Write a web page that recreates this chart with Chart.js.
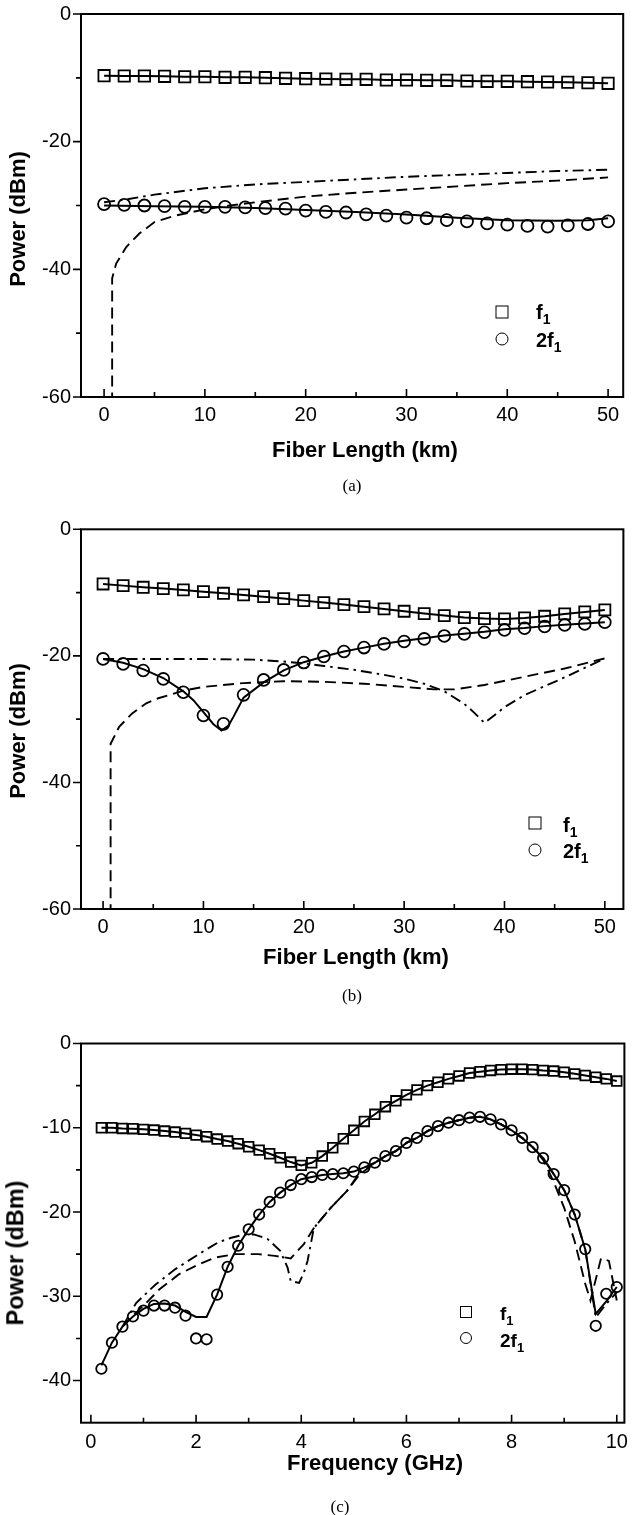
<!DOCTYPE html>
<html>
<head>
<meta charset="utf-8">
<script src="https://cdn.jsdelivr.net/npm/chart.js@4/dist/chart.umd.min.js"></script>
<style>
html,body{margin:0;padding:0;background:#fff;}
body{width:633px;height:1515px;position:relative;overflow:hidden;font-family:"Liberation Sans",Arial,sans-serif;color:#000;}
canvas{position:absolute;left:0;}
.t{position:absolute;font-weight:bold;font-size:22px;white-space:nowrap;line-height:1;}
.yt{transform:translate(-50%,-50%) rotate(-90deg);}
.xt{transform:translate(-50%,-50%);}
.cap{position:absolute;font-family:"Liberation Serif","Times New Roman",serif;font-size:17px;transform:translate(-50%,-50%);white-space:nowrap;}
.lg{position:absolute;font-weight:bold;font-size:20px;line-height:20px;white-space:nowrap;}
.lg.s{font-size:19px;line-height:19px;}
.lg sub{font-size:14px;vertical-align:-5px;line-height:0;}
.lg.s sub{font-size:13px;}
.msq{position:absolute;border:1.8px solid #000;box-sizing:border-box;transform:translate(-50%,-50%);}
.mci{position:absolute;border:1.8px solid #000;border-radius:50%;box-sizing:border-box;transform:translate(-50%,-50%);}
</style>
</head>
<body>
<canvas id="ca" width="633" height="470" style="top:0px"></canvas>
<canvas id="cb" width="633" height="470" style="top:515px"></canvas>
<canvas id="cc" width="633" height="440" style="top:1030px"></canvas>

<!-- axis titles -->
<div class="t yt" style="left:18px;top:219px">Power (dBm)</div>
<div class="t xt" style="left:365px;top:450px">Fiber Length (km)</div>
<div class="cap" style="left:352px;top:486px">(a)</div>

<div class="t yt" style="left:18px;top:731px">Power (dBm)</div>
<div class="t xt" style="left:356px;top:957px">Fiber Length (km)</div>
<div class="cap" style="left:352px;top:996px">(b)</div>

<div class="t yt" style="left:16px;top:1253px;font-size:23.5px">Power (dBm)</div>
<div class="t xt" style="left:375px;top:1463px">Frequency (GHz)</div>
<div class="cap" style="left:340px;top:1507px">(c)</div>

<!-- legends -->
<div class="msq" style="left:502px;top:312px;width:13px;height:13px"></div>
<div class="lg" style="left:536px;top:302px">f<sub>1</sub></div>
<div class="mci" style="left:502px;top:339px;width:13px;height:13px"></div>
<div class="lg" style="left:536px;top:330px">2f<sub>1</sub></div>

<div class="msq" style="left:535px;top:823px;width:13px;height:13px"></div>
<div class="lg" style="left:563px;top:815px">f<sub>1</sub></div>
<div class="mci" style="left:535px;top:850px;width:13px;height:13px"></div>
<div class="lg" style="left:563px;top:841px">2f<sub>1</sub></div>

<div class="msq" style="left:466px;top:1312px;width:12px;height:12px"></div>
<div class="lg s" style="left:500px;top:1304px">f<sub>1</sub></div>
<div class="mci" style="left:466px;top:1338px;width:12px;height:12px"></div>
<div class="lg s" style="left:500px;top:1331px">2f<sub>1</sub></div>

<script>
// ---------------- DATA ----------------
// (a) and (b): fiber length axis
const KM = [0,2,4,6,8,10,12,14,16,18,20,22,24,26,28,30,32,34,36,38,40,42,44,46,48,50];
const KM_TICKS = [0,10,20,30,40,50];
const KM_MINOR = [5,15,25,35,45];
const DB_TICKS_AB = [0,-20,-40,-60];
const DB_MINOR_AB = [-10,-30,-50];

// (a)
const A_F1  = [-9.66,-9.71,-9.71,-9.77,-9.82,-9.82,-9.92,-9.92,-9.97,-10.08,-10.13,-10.18,-10.24,-10.24,-10.34,-10.34,-10.39,-10.39,-10.5,-10.55,-10.55,-10.6,-10.65,-10.7,-10.76,-10.86];
const A_2F1 = [-29.8,-29.9,-30.0,-30.1,-30.2,-30.2,-30.2,-30.3,-30.4,-30.5,-30.8,-31.0,-31.1,-31.4,-31.6,-31.9,-32.0,-32.3,-32.5,-32.8,-33.0,-33.2,-33.3,-33.1,-32.9,-32.5];
const A_SOLID_X = [0,5,10,15,20,25,30,35,40,45,48,50];
const A_SOLID_Y = [-30.0,-30.1,-30.2,-30.4,-30.7,-31.0,-31.4,-31.9,-32.3,-32.4,-32.3,-32.0];
const A_DOT_X = [0,2,5,10,15,20,25,30,35,40,45,50];
const A_DOT_Y = [-29.5,-29.1,-28.3,-27.3,-26.7,-26.3,-25.9,-25.5,-25.2,-24.9,-24.6,-24.4];
const A_DASH_X = [0.8,0.8,1.2,2.2,3.5,5,7,10,12,15,20,25,30,35,40,45,50];
const A_DASH_Y = [-61,-41.4,-39.1,-36.5,-34.4,-32.6,-31.6,-30.6,-30.1,-29.5,-28.6,-28.0,-27.5,-27.0,-26.5,-26.1,-25.6];

// (b)
const B_F1  = [-8.64,-8.9,-9.16,-9.37,-9.58,-9.85,-10.11,-10.37,-10.64,-10.95,-11.27,-11.58,-11.9,-12.22,-12.58,-12.95,-13.32,-13.64,-13.95,-14.11,-14.16,-14.0,-13.74,-13.37,-13.06,-12.74];
const B_2F1 = [-20.48,-21.27,-22.32,-23.64,-25.74,-29.43,-30.74,-26.16,-23.8,-22.22,-21.06,-20.11,-19.32,-18.69,-18.11,-17.74,-17.32,-16.85,-16.53,-16.27,-15.9,-15.64,-15.37,-15.11,-14.95,-14.69];
const B_SOLID_X = [0,2,4,6,8,9,10,11,11.8,12.5,13,14,16,18,20,22,24,26,28,30,32,34,36,38,40,42,44,46,48,50];
const B_SOLID_Y = [-20.5,-21.1,-22.1,-23.5,-25.6,-27.0,-28.9,-30.8,-31.8,-31.0,-29.6,-26.6,-24.2,-22.3,-21.0,-20.1,-19.3,-18.7,-18.1,-17.6,-17.2,-16.8,-16.5,-16.2,-15.8,-15.6,-15.3,-15.1,-14.9,-14.7];
const B_DOT_X = [0,5,10,15,18,20,22,25,28,30,32,34,36,37,38,39,40,42,44,46,48,50];
const B_DOT_Y = [-20.5,-20.5,-20.5,-20.6,-20.9,-21.2,-21.6,-22.2,-23.0,-23.6,-24.4,-25.6,-27.6,-29.0,-30.6,-29.4,-28.1,-26.2,-24.8,-23.4,-21.9,-20.4];
const B_DASH_X = [0.75,0.75,1.6,2.9,4.3,5.5,8,10,14,18,22,26,30,33,35,38,42,46,50];
const B_DASH_Y = [-61,-33.9,-31.2,-29.1,-27.5,-26.7,-25.5,-24.9,-24.3,-24.0,-24.1,-24.4,-24.9,-25.3,-25.3,-24.6,-23.3,-22.0,-20.4];

// (c): frequency axis
const GHZ = [0.2,0.4,0.6,0.8,1.0,1.2,1.4,1.6,1.8,2.0,2.2,2.4,2.6,2.8,3.0,3.2,3.4,3.6,3.8,4.0,4.2,4.4,4.6,4.8,5.0,5.2,5.4,5.6,5.8,6.0,6.2,6.4,6.6,6.8,7.0,7.2,7.4,7.6,7.8,8.0,8.2,8.4,8.6,8.8,9.0,9.2,9.4,9.6,9.8,10.0];
const GHZ_TICKS = [0,2,4,6,8,10];
const GHZ_MINOR = [1,3,5,7,9];
const DB_TICKS_C = [0,-10,-20,-30,-40];
const DB_MINOR_C = [-5,-15,-25,-35];
const C_F1 = [-10.0,-10.0,-10.08,-10.11,-10.19,-10.27,-10.39,-10.51,-10.67,-10.87,
  -11.06,-11.34,-11.58,-11.89,-12.25,-12.65,-13.08,-13.56,-14.07,-14.46,
  -14.15,-13.36,-12.37,-11.3,-10.3,-9.25,-8.4,-7.5,-6.8,-6.1,
  -5.5,-5.0,-4.6,-4.2,-3.85,-3.5,-3.35,-3.2,-3.1,-3.05,
  -3.05,-3.1,-3.2,-3.27,-3.4,-3.6,-3.8,-4.0,-4.2,-4.46];
const C_2F1 = [-38.6,-35.5,-33.6,-32.4,-31.7,-31.1,-31.1,-31.35,-32.3,-35.0,
  -35.1,-29.8,-26.5,-24.0,-22.05,-20.3,-18.8,-17.7,-16.8,-16.1,
  -15.85,-15.6,-15.5,-15.4,-15.2,-14.7,-14.15,-13.36,-12.76,-11.8,
  -11.2,-10.4,-9.8,-9.4,-9.1,-8.8,-8.7,-9.0,-9.6,-10.3,
  -11.2,-12.3,-13.6,-15.5,-17.4,-20.3,-24.4,-33.5,-29.7,-28.9];
const C_SOLID_Y = [-38.2,-35.5,-33.6,-32.4,-31.5,-30.9,-30.85,-31.1,-31.85,-32.45,
  -32.45,-29.8,-26.5,-24.0,-22.05,-20.3,-18.8,-17.7,-16.8,-16.1,
  -15.85,-15.6,-15.5,-15.4,-15.2,-14.7,-14.15,-13.36,-12.76,-11.8,
  -11.2,-10.4,-9.8,-9.4,-9.1,-8.8,-8.7,-9.0,-9.6,-10.3,
  -11.2,-12.3,-13.6,-15.5,-17.4,-20.3,-24.4,-32.1,-30.6,-28.9];
const C_DASH_X = [0.6,0.8,1.05,1.3,1.67,2.05,2.36,2.74,3.18,3.5,3.8,4.05,4.24,4.56,4.87,5.1,5.4,5.6,5.8,6.0,6.2,6.4,6.6,6.8,7.0,7.2,7.4,7.6,7.8,8.0,8.2,8.4,8.6,8.8,9.0,9.2,9.4,9.5,9.6,9.7,9.85,10.0];
const C_DASH_Y = [-33.6,-32.3,-30.8,-29.2,-27.4,-26.2,-25.4,-25.0,-25.0,-25.2,-25.5,-23.8,-21.9,-19.5,-17.5,-15.6,-14.15,-13.36,-12.76,-11.8,-11.2,-10.4,-9.8,-9.4,-9.1,-8.8,-8.7,-9.0,-9.6,-10.3,-11.2,-12.3,-13.8,-16.4,-19.5,-23.5,-28.5,-30.5,-28.0,-25.5,-25.8,-30.5];
const C_DOT_X = [0.6,0.86,1.23,1.6,2.05,2.42,2.67,2.9,3.1,3.36,3.6,3.74,3.8,3.96,4.05,4.12,4.24,4.56,4.87,5.1,5.4,5.6,5.8,6.0,6.2,6.4,6.6,6.8,7.0,7.2,7.4,7.6,7.8,8.0,8.2,8.4,8.6,8.8,9.0,9.2,9.4,9.6,9.8,10.0];
const C_DOT_Y = [-33.6,-30.8,-28.6,-26.8,-25.0,-23.6,-23.05,-22.7,-22.65,-23.2,-24.6,-26.6,-28.2,-28.4,-27.2,-25.8,-21.9,-19.5,-17.5,-15.4,-14.15,-13.36,-12.76,-11.8,-11.2,-10.4,-9.8,-9.4,-9.1,-8.8,-8.7,-9.0,-9.6,-10.3,-11.2,-12.3,-13.6,-15.5,-17.4,-20.3,-24.4,-32.5,-30.9,-29.5];

// ---------------- CHART SETUP ----------------
Chart.defaults.font.family = '"Liberation Sans", Arial, sans-serif';
Chart.defaults.color = '#000';

const pts = (xs, ys) => xs.map((x, i) => ({x: x, y: ys[i]}));

const frame = {
  id: 'frame',
  afterDraw(chart, args, o) {
    const {ctx, chartArea: a, scales: {x, y}} = chart;
    ctx.save();
    ctx.strokeStyle = '#000';
    ctx.lineWidth = 1.6;
    ctx.beginPath();
    o.xMajor.forEach(v => { const p = x.getPixelForValue(v); ctx.moveTo(p, a.bottom); ctx.lineTo(p, a.bottom - 8); });
    o.xMinor.forEach(v => { const p = x.getPixelForValue(v); ctx.moveTo(p, a.bottom); ctx.lineTo(p, a.bottom - 5); });
    o.yMajor.forEach(v => { const p = y.getPixelForValue(v); ctx.moveTo(a.left, p); ctx.lineTo(a.left - 8, p); });
    o.yMinor.forEach(v => { const p = y.getPixelForValue(v); ctx.moveTo(a.left, p); ctx.lineTo(a.left - 5, p); });
    ctx.stroke();
    ctx.lineWidth = 2;
    ctx.strokeRect(a.left, a.top, a.right - a.left, a.bottom - a.top);
    ctx.restore();
  }
};

function lineDs(data, dash, w) {
  return {data, showLine: true, pointRadius: 0, borderColor: '#000', borderWidth: w || 1.9,
          borderDash: dash, tension: 0, fill: false};
}
function markDs(data, style, r, withLine) {
  return {data, showLine: !!withLine, pointStyle: style, pointRadius: r, pointBorderWidth: 1.8,
          pointBorderColor: '#000', pointBackgroundColor: 'rgba(0,0,0,0)', borderColor: '#000',
          borderWidth: 2, tension: 0};
}

function makeChart(id, c) {
  new Chart(document.getElementById(id), {
    type: 'scatter',
    data: {datasets: c.datasets},
    plugins: [frame],
    options: {
      responsive: false, animation: false, devicePixelRatio: 1,
      layout: {padding: {top: c.padTop, right: c.padRight, left: 0, bottom: 0}},
      plugins: {legend: {display: false}, tooltip: {enabled: false},
                frame: {xMajor: c.xTicks, xMinor: c.xMinor, yMajor: c.yTicks, yMinor: c.yMinor}},
      scales: {
        x: {type: 'linear', position: 'bottom', min: c.xMin, max: c.xMax,
            border: {display: false}, grid: {display: false, drawTicks: false, tickLength: 0},
            ticks: {autoSkip: false, maxRotation: 0, padding: c.xPad, font: {size: 20}, color: '#000',
                    callback: v => String(v)},
            afterBuildTicks: s => { s.ticks = c.xTicks.map(v => ({value: v})); },
            afterFit: s => { s.height = c.xAxisH; s.paddingLeft = 0; s.paddingRight = 0; s.paddingTop = 0; s.paddingBottom = 0; }},
        y: {type: 'linear', position: 'left', min: c.yMin, max: c.yMax,
            border: {display: false}, grid: {display: false, drawTicks: false, tickLength: 0},
            ticks: {autoSkip: false, padding: 10, font: {size: 20}, color: '#000',
                    callback: v => String(v)},
            afterBuildTicks: s => { s.ticks = c.yTicks.map(v => ({value: v})); },
            afterFit: s => { s.width = 81; s.paddingTop = 0; s.paddingBottom = 0; s.paddingLeft = 0; s.paddingRight = 0; }}
      }
    }
  });
}

const DASH = [11, 6];
const DASHDOT = [11, 5, 2.5, 5];

makeChart('ca', {
  padTop: 14, padRight: 3, xAxisH: 73, xPad: 6,
  xMin: -2.29, xMax: 51.5, yMin: -60, yMax: 0,
  xTicks: KM_TICKS, xMinor: KM_MINOR, yTicks: DB_TICKS_AB, yMinor: DB_MINOR_AB,
  datasets: [
    lineDs(pts(A_DASH_X, A_DASH_Y), DASH),
    lineDs(pts(A_DOT_X, A_DOT_Y), DASHDOT),
    lineDs(pts(A_SOLID_X, A_SOLID_Y), [], 2),
    markDs(pts(KM, A_F1), 'rect', 8, true),
    markDs(pts(KM, A_2F1), 'circle', 6, false)
  ]
});

makeChart('cb', {
  padTop: 14.3, padRight: 3, xAxisH: 76, xPad: 6,
  xMin: -2.2, xMax: 51.85, yMin: -60, yMax: 0,
  xTicks: KM_TICKS, xMinor: KM_MINOR, yTicks: DB_TICKS_AB, yMinor: DB_MINOR_AB,
  datasets: [
    lineDs(pts(B_DASH_X, B_DASH_Y), DASH),
    lineDs(pts(B_DOT_X, B_DOT_Y), DASHDOT),
    lineDs(pts(B_SOLID_X, B_SOLID_Y), [], 2),
    markDs(pts(KM, B_F1), 'rect', 7.8, true),
    markDs(pts(KM, B_2F1), 'circle', 5.9, false)
  ]
});

makeChart('cc', {
  padTop: 13.5, padRight: 2, xAxisH: 47.3, xPad: 8,
  xMin: -0.188, xMax: 10.145, yMin: -45, yMax: 0,
  xTicks: GHZ_TICKS, xMinor: GHZ_MINOR, yTicks: DB_TICKS_C, yMinor: DB_MINOR_C,
  datasets: [
    lineDs(pts(C_DASH_X, C_DASH_Y), DASH),
    lineDs(pts(C_DOT_X, C_DOT_Y), DASHDOT),
    lineDs(pts(GHZ, C_SOLID_Y), [], 2),
    markDs(pts(GHZ, C_F1), 'rect', 6.8, true),
    markDs(pts(GHZ, C_2F1), 'circle', 5.2, false)
  ]
});
</script>
</body>
</html>
